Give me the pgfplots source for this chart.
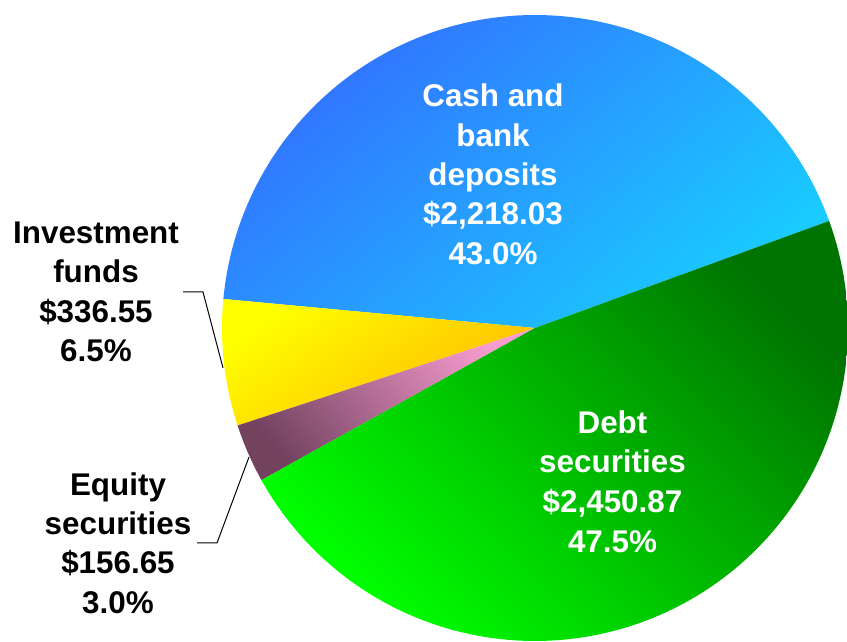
\documentclass[border=0pt]{standalone}
\usepackage{pgfplots}
\pgfplotsset{compat=1.18}
\usepackage{pgfplotstable}
\usepackage{fontspec}
\setmainfont{Liberation Sans}

\definecolor{cashA}{HTML}{3370FF}
\definecolor{cashB}{HTML}{19CCFF}
\definecolor{debtA}{HTML}{007400}
\definecolor{debtB}{HTML}{00FF00}
\definecolor{invA}{HTML}{FFFF00}
\definecolor{invB}{HTML}{FFB800}
\definecolor{eqA}{HTML}{F89CD0}
\definecolor{eqB}{HTML}{72425F}

\pgfplotstableread[col sep=comma]{
name,value
Cash,2218.03
Investment,336.55
Equity,156.65
Debt,2450.87
}\piedata

\pgfplotstablegetelem{0}{value}\of\piedata \pgfmathsetmacro\vA{\pgfplotsretval}
\pgfplotstablegetelem{1}{value}\of\piedata \pgfmathsetmacro\vB{\pgfplotsretval}
\pgfplotstablegetelem{2}{value}\of\piedata \pgfmathsetmacro\vC{\pgfplotsretval}
\pgfplotstablegetelem{3}{value}\of\piedata \pgfmathsetmacro\vD{\pgfplotsretval}
\pgfmathsetmacro\tot{\vA+\vB+\vC+\vD}
\pgfmathsetmacro\aA{20}
\pgfmathsetmacro\aB{\aA+\vA/\tot*360}
\pgfmathsetmacro\aC{\aB+\vB/\tot*360}
\pgfmathsetmacro\aD{\aC+\vC/\tot*360}
\pgfmathsetmacro\aE{\aA+360}
\def\cx{535}\def\cy{314}\def\R{313}

\begin{document}%
\begin{tikzpicture}
\begin{axis}[at={(0,0)}, anchor=south west, scale only axis,
  width=847bp, height=642bp, xmin=0, xmax=847, ymin=0, ymax=642,
  xtick=\empty, ytick=\empty, hide axis, clip=true]
\addplot[draw=none, top color=cashA, bottom color=cashB, shading angle=40,
  domain=\aA:\aB, samples=120, variable=\t]
  ({\cx+\R*cos(\t)},{\cy+\R*sin(\t)}) -- (axis cs:\cx,\cy) -- cycle;
\addplot[draw=none, top color=invA, bottom color=invB, shading angle=35,
  domain=\aB:\aC, samples=30, variable=\t]
  ({\cx+\R*cos(\t)},{\cy+\R*sin(\t)}) -- (axis cs:\cx,\cy) -- cycle;
\addplot[draw=none, top color=eqA, bottom color=eqB, shading angle=-50,
  domain=\aC:\aD, samples=20, variable=\t]
  ({\cx+\R*cos(\t)},{\cy+\R*sin(\t)}) -- (axis cs:\cx,\cy) -- cycle;
\addplot[draw=none, top color=debtA, bottom color=debtB, shading angle=-45,
  domain=\aD:\aE, samples=120, variable=\t]
  ({\cx+\R*cos(\t)},{\cy+\R*sin(\t)}) -- (axis cs:\cx,\cy) -- cycle;
\addplot[black, line width=1bp] coordinates {(183,350) (203,350) (223,274)};
\addplot[black, line width=1bp] coordinates {(197,99) (217,99) (249,185)};
\end{axis}
\pgfresetboundingbox
\useasboundingbox (0,0) rectangle (847bp,642bp);
\tikzset{lab/.style={font=\fontsize{31.5}{38}\selectfont\bfseries, inner sep=0pt, anchor=base}}
\begin{scope}[x=1bp,y=1bp]
\foreach \s [count=\i from 0] in {Cash and,bank,deposits,{\$2,218.03},43.0\%}
  \node[lab,white] at (493,{642-107-39.3*\i}) {\s};
\foreach \s [count=\i from 0] in {Debt,securities,{\$2,450.87},47.5\%}
  \node[lab,white] at (612.5,{642-433-39.8*\i}) {\s};
\foreach \s [count=\i from 0] in {Investment,funds,\$336.55,6.5\%}
  \node[lab,black] at (96,{642-243.3-39.5*\i}) {\s};
\foreach \s [count=\i from 0] in {Equity,securities,\$156.65,3.0\%}
  \node[lab,black] at (118,{642-495-39.4*\i}) {\s};
\end{scope}
\end{tikzpicture}%
\end{document}
